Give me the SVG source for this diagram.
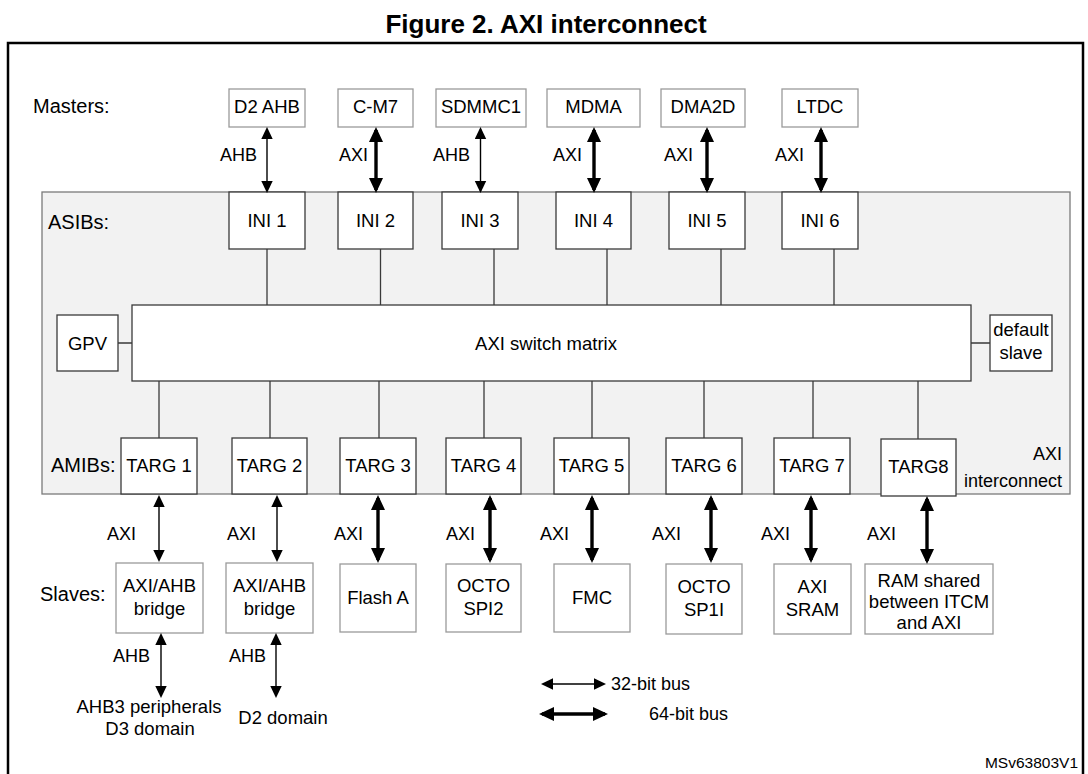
<svg xmlns="http://www.w3.org/2000/svg" width="1088" height="774" viewBox="0 0 1088 774">
<style>
text{font-family:"Liberation Sans",Arial,sans-serif;fill:#000}
.t{font-size:18.5px;text-anchor:middle}
.s{font-size:20px}
.l{font-size:18px}
.e{text-anchor:end}
.pb{fill:#fff;stroke:#9a9a9a;stroke-width:1.3}
.ib{fill:#fff;stroke:#3a3a3a;stroke-width:1.3}
.c{stroke:#3a3a3a;stroke-width:1.3;fill:none}
.a32{stroke:#000;stroke-width:1.4;fill:none;marker-start:url(#m32);marker-end:url(#m32)}
.a64{stroke:#000;stroke-width:3.4;fill:none;marker-start:url(#m64);marker-end:url(#m64)}
</style>
<defs>
<marker id="m32" markerUnits="userSpaceOnUse" markerWidth="13" markerHeight="13" refX="10" refY="6" orient="auto-start-reverse"><path d="M0,0.3 L12,6 L0,11.7 z" fill="#000"/></marker>
<marker id="m64" markerUnits="userSpaceOnUse" markerWidth="16" markerHeight="15" refX="12" refY="7" orient="auto-start-reverse"><path d="M0,0 L15,7 L0,14 z" fill="#000"/></marker>
</defs>
<rect width="1088" height="774" fill="#fff"/>
<text x="546" y="33" style="font-size:26px;font-weight:bold;text-anchor:middle">Figure 2. AXI interconnect</text>
<path d="M8,780 V43 H1083 V780" fill="none" stroke="#000" stroke-width="2.5"/>

<g id="interconnect">
<rect x="42" y="192" width="1028" height="302" fill="#f2f2f2" stroke="#7a7a7a" stroke-width="1.3"/>
<text class="l e" x="1062" y="460">AXI</text>
<text class="l e" x="1062" y="487">interconnect</text>
</g>

<g id="side-labels">
<text class="s" x="33" y="113">Masters:</text>
<text class="s" x="48" y="229">ASIBs:</text>
<text class="s" x="51" y="472">AMIBs:</text>
<text class="s" x="40" y="601">Slaves:</text>
</g>

<g id="masters">
<g id="m-d2ahb"><rect class="pb" x="229" y="89" width="76" height="38"/><text class="t" x="267" y="113">D2 AHB</text></g>
<g id="m-cm7"><rect class="pb" x="338" y="89" width="75" height="38"/><text class="t" x="375.5" y="113">C-M7</text></g>
<g id="m-sdmmc1"><rect class="pb" x="436" y="89" width="90" height="38"/><text class="t" x="481" y="113">SDMMC1</text></g>
<g id="m-mdma"><rect class="pb" x="547" y="89" width="93" height="38"/><text class="t" x="593.5" y="113">MDMA</text></g>
<g id="m-dma2d"><rect class="pb" x="661" y="89" width="84" height="38"/><text class="t" x="703" y="113">DMA2D</text></g>
<g id="m-ltdc"><rect class="pb" x="782" y="89" width="76" height="38"/><text class="t" x="820" y="113">LTDC</text></g>
</g>

<g id="asibs">
<g id="ini1"><rect class="ib" x="229" y="192" width="76" height="57"/><text class="t" x="267" y="227">INI 1</text></g>
<g id="ini2"><rect class="ib" x="338" y="192" width="75" height="57"/><text class="t" x="375.5" y="227">INI 2</text></g>
<g id="ini3"><rect class="ib" x="442" y="192" width="76" height="57"/><text class="t" x="480" y="227">INI 3</text></g>
<g id="ini4"><rect class="ib" x="556" y="192" width="75" height="57"/><text class="t" x="593.5" y="227">INI 4</text></g>
<g id="ini5"><rect class="ib" x="669" y="192" width="76" height="57"/><text class="t" x="707" y="227">INI 5</text></g>
<g id="ini6"><rect class="ib" x="782" y="192" width="76" height="57"/><text class="t" x="820" y="227">INI 6</text></g>
</g>

<g id="gpv"><rect class="ib" x="57" y="315" width="61" height="56"/><text class="t" x="87.5" y="350">GPV</text></g>
<g id="switch"><rect class="ib" x="132" y="305" width="839" height="76"/><text class="t" x="546" y="350">AXI switch matrix</text></g>
<g id="default-slave"><rect class="ib" x="990" y="315" width="62" height="56"/><text class="t" x="1021" y="336">default</text><text class="t" x="1021" y="359">slave</text></g>

<g id="amibs">
<g id="targ1"><rect class="ib" x="121" y="438" width="76" height="56"/><text class="t" x="159" y="472">TARG 1</text></g>
<g id="targ2"><rect class="ib" x="232" y="438" width="75" height="56"/><text class="t" x="269.5" y="472">TARG 2</text></g>
<g id="targ3"><rect class="ib" x="340" y="438" width="76" height="56"/><text class="t" x="378" y="472">TARG 3</text></g>
<g id="targ4"><rect class="ib" x="446" y="438" width="75" height="56"/><text class="t" x="483.5" y="472">TARG 4</text></g>
<g id="targ5"><rect class="ib" x="554" y="438" width="75" height="56"/><text class="t" x="591.5" y="472">TARG 5</text></g>
<g id="targ6"><rect class="ib" x="666" y="438" width="76" height="56"/><text class="t" x="704" y="472">TARG 6</text></g>
<g id="targ7"><rect class="ib" x="774" y="438" width="76" height="56"/><text class="t" x="812" y="472">TARG 7</text></g>
<g id="targ8"><rect class="ib" x="881" y="439" width="75" height="57"/><text class="t" x="918.5" y="473">TARG8</text></g>
</g>

<g id="slaves">
<g id="s-bridge1"><rect class="pb" x="116" y="563" width="87" height="70"/><text class="t" x="159.5" y="592">AXI/AHB</text><text class="t" x="159.5" y="615">bridge</text></g>
<g id="s-bridge2"><rect class="pb" x="226" y="563" width="87" height="70"/><text class="t" x="269.5" y="592">AXI/AHB</text><text class="t" x="269.5" y="615">bridge</text></g>
<g id="s-flash"><rect class="pb" x="340" y="564" width="76" height="68"/><text class="t" x="378" y="604">Flash A</text></g>
<g id="s-octo2"><rect class="pb" x="446" y="564" width="75" height="68"/><text class="t" x="483.5" y="592">OCTO</text><text class="t" x="483.5" y="615">SPI2</text></g>
<g id="s-fmc"><rect class="pb" x="554" y="564" width="76" height="68"/><text class="t" x="592" y="604">FMC</text></g>
<g id="s-octo1"><rect class="pb" x="666" y="564" width="76" height="70"/><text class="t" x="704" y="593">OCTO</text><text class="t" x="704" y="616">SP1I</text></g>
<g id="s-sram"><rect class="pb" x="774" y="564" width="77" height="70"/><text class="t" x="812.5" y="593">AXI</text><text class="t" x="812.5" y="616">SRAM</text></g>
<g id="s-ram"><rect class="pb" x="865" y="564" width="128" height="70"/><text class="t" x="929" y="587">RAM shared</text><text class="t" x="929" y="608">between ITCM</text><text class="t" x="929" y="629">and AXI</text></g>
</g>

<g id="ext-targets">
<text class="t" x="149" y="713">AHB3 peripherals</text>
<text class="t" x="150" y="735">D3 domain</text>
<text class="t" x="283" y="724">D2 domain</text>
</g>

<g id="connectors">
<path class="c" d="M267,249 V305 M380.5,249 V305 M494,249 V305 M607,249 V305 M721,249 V305 M834,249 V305"/>
<path class="c" d="M159,381 V438 M270,381 V438 M379,381 V438 M484,381 V438 M592,381 V438 M704,381 V438 M813,381 V438 M918,381 V439"/>
<path class="c" d="M118,343 H132 M971,343 H990"/>
<line class="a32" x1="267" y1="129" x2="267" y2="191"/>
<line class="a64" x1="376" y1="130" x2="376" y2="190"/>
<line class="a32" x1="480.5" y1="129" x2="480.5" y2="191"/>
<line class="a64" x1="594" y1="130" x2="594" y2="190"/>
<line class="a64" x1="707" y1="130" x2="707" y2="190"/>
<line class="a64" x1="821" y1="130" x2="821" y2="190"/>
<line class="a32" x1="159" y1="497" x2="159" y2="560"/>
<line class="a32" x1="277" y1="497" x2="277" y2="560"/>
<line class="a64" x1="378" y1="498" x2="378" y2="560"/>
<line class="a64" x1="490" y1="498" x2="490" y2="560"/>
<line class="a64" x1="592" y1="498" x2="592" y2="560"/>
<line class="a64" x1="711" y1="498" x2="711" y2="560"/>
<line class="a64" x1="811" y1="498" x2="811" y2="560"/>
<line class="a64" x1="927" y1="499" x2="927" y2="561"/>
<line class="a32" x1="161" y1="635" x2="161" y2="696"/>
<line class="a32" x1="276" y1="635" x2="276" y2="696"/>
</g>

<g id="bus-labels">
<text class="l e" x="257" y="161">AHB</text>
<text class="l e" x="368" y="161">AXI</text>
<text class="l e" x="470" y="161">AHB</text>
<text class="l e" x="582" y="161">AXI</text>
<text class="l e" x="693" y="161">AXI</text>
<text class="l e" x="804" y="161">AXI</text>
<text class="l" x="107" y="540">AXI</text>
<text class="l" x="227" y="540">AXI</text>
<text class="l" x="334" y="540">AXI</text>
<text class="l" x="446" y="540">AXI</text>
<text class="l" x="540" y="540">AXI</text>
<text class="l" x="652" y="540">AXI</text>
<text class="l" x="761" y="540">AXI</text>
<text class="l" x="867" y="540">AXI</text>
<text class="l" x="113" y="662">AHB</text>
<text class="l" x="229" y="662">AHB</text>
</g>

<g id="legend">
<line class="a32" x1="543" y1="684" x2="604" y2="684"/>
<text class="l" x="611" y="690">32-bit bus</text>
<line class="a64" x1="542" y1="714" x2="605" y2="714"/>
<text class="l" x="649" y="720">64-bit bus</text>
</g>

<text x="1078" y="768" style="font-size:15.5px;text-anchor:end">MSv63803V1</text>
</svg>
